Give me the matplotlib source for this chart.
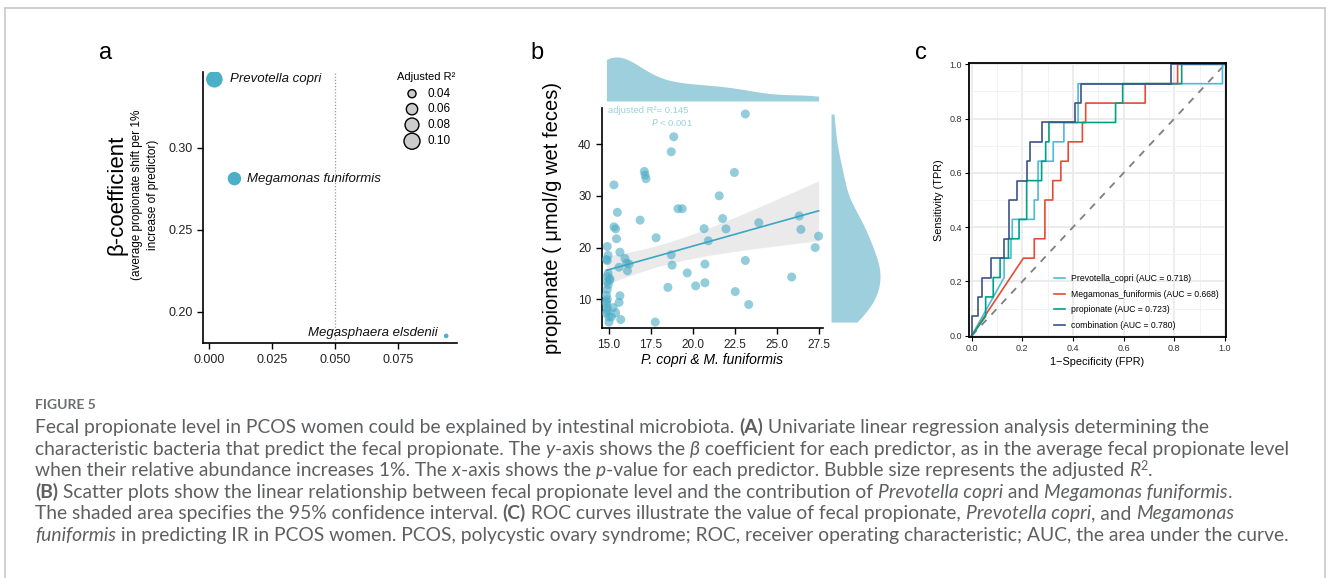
import numpy as np
import matplotlib
matplotlib.use('Agg')
import matplotlib.pyplot as plt
from matplotlib.lines import Line2D
from matplotlib.ticker import FormatStrFormatter, MultipleLocator

W, H = 1328, 578
plt.rcParams['font.family'] = ['Liberation Sans', 'DejaVu Sans']

# ---- panel a: univariate regression ----
species = ['Prevotella copri', 'Megamonas funiformis', 'Megasphaera elsdenii']
p_value = [0.002, 0.010, 0.0943]
beta = [0.3417, 0.2811, 0.1852]
adj_r2 = [0.106, 0.076, 0.026]
r2_breaks = [0.04, 0.06, 0.08, 0.10]

# ---- panel b: scatter ----
pm_abund = [23.1, 18.85, 18.7, 17.1, 17.15, 17.2, 22.45, 15.3, 21.55, 19.1,
            19.35, 15.5, 16.85, 15.3, 15.4, 20.65, 21.75, 21.95, 23.9, 26.3,
            26.4, 27.45, 27.25, 15.45, 17.8, 20.9, 14.9, 15.65, 14.95, 14.85,
            14.9, 15.95, 16.05, 16.2, 18.7, 18.75, 20.7, 15.6, 16.1, 19.65,
            14.95, 14.9, 14.9, 14.95, 15.05, 23.1, 25.85, 20.15, 20.7, 18.5,
            22.5, 23.3, 15.65, 15.6, 14.85, 14.9, 14.85, 14.9, 14.85, 15.0,
            15.25, 15.4, 15.15, 15.0, 15.7, 17.75, 14.9, 14.85, 15.05, 14.9]
propionate = [45.8, 41.4, 38.5, 34.7, 34.0, 33.3, 34.5, 32.1, 30.0, 27.5,
              27.5, 26.8, 25.3, 24.0, 23.6, 23.65, 25.6, 23.6, 24.8, 26.1,
              23.5, 22.2, 20.0, 21.7, 21.9, 21.3, 20.2, 19.1, 18.5, 17.7,
              17.5, 17.9, 17.0, 16.8, 18.6, 16.6, 16.8, 16.2, 15.5, 15.1,
              15.0, 14.4, 13.4, 12.8, 13.7, 17.5, 14.3, 12.6, 13.2, 12.3,
              11.5, 9.0, 10.7, 9.4, 10.8, 10.0, 9.2, 8.3, 7.3, 6.6,
              8.4, 7.4, 6.6, 5.6, 6.1, 5.6, 11.9, 9.6, 14.0, 7.8]

# ---- panel c: ROC curves ----
roc_names = ['Prevotella_copri', 'Megamonas_funiformis', 'propionate', 'combination']
roc_auc = [0.718, 0.668, 0.723, 0.780]
roc_colors = ['#4DBBD5', '#E64B35', '#00A087', '#3C5488']
fpr_prev = [0, 0.128, 0.128, 0.155, 0.155, 0.16, 0.16, 0.247, 0.247, 0.262, 0.262,
            0.322, 0.322, 0.364, 0.364, 0.42, 0.42, 0.99, 0.99, 1.0]
tpr_prev = [0, 3, 4, 4, 5, 5, 6, 6, 7, 7, 9, 9, 10, 10, 11, 11, 13, 13, 14, 14]
fpr_mega = [0, 0.204, 0.247, 0.247, 0.289, 0.289, 0.32, 0.32, 0.352, 0.352, 0.381,
            0.381, 0.437, 0.437, 0.45, 0.45, 0.685, 0.685, 0.813, 0.813, 1.0]
tpr_mega = [0, 4, 4, 5, 5, 7, 7, 8, 8, 9, 9, 10, 10, 11, 11, 12, 12, 13, 13, 14, 14]
fpr_prop = [0, 0.055, 0.055, 0.085, 0.085, 0.112, 0.112, 0.145, 0.145, 0.187, 0.187,
            0.217, 0.217, 0.276, 0.276, 0.292, 0.292, 0.305, 0.305, 0.568, 0.568,
            0.596, 0.596, 0.829, 0.829, 1.0]
tpr_prop = [0, 1, 2, 2, 3, 3, 4, 4, 5, 5, 6, 6, 8, 8, 9, 9, 10, 10, 11, 11, 12, 12,
            13, 13, 14, 14]
fpr_comb = [0, 0, 0.026, 0.026, 0.042, 0.042, 0.076, 0.076, 0.129, 0.129, 0.147,
            0.147, 0.178, 0.178, 0.217, 0.217, 0.232, 0.232, 0.276, 0.276, 0.408,
            0.408, 0.432, 0.432, 0.786, 0.786, 1.0]
tpr_comb = [0, 1, 1, 2, 2, 3, 3, 4, 4, 5, 5, 7, 7, 8, 8, 9, 9, 10, 10, 11, 11, 12,
            12, 13, 13, 14, 14]
n_pos = 14


def box(l, t, r, b):
    return [l / W, 1 - b / H, (r - l) / W, (b - t) / H]


def fxy(x, y):
    return x / W, 1 - y / H


def bubble(r):
    return np.clip(1650 * np.asarray(r) - 32, 4, None)


def kde(data, grid, factor=1.0):
    data = np.asarray(data)
    bw = factor * data.std(ddof=1) * len(data) ** (-0.2)
    z = (grid[:, None] - data[None, :]) / bw
    return np.exp(-0.5 * z ** 2).sum(axis=1) / (len(data) * bw * np.sqrt(2 * np.pi))


fig = plt.figure(figsize=(W / 100, H / 100), dpi=100)

# frame around the figure
for xs, ys in [([4.5, 4.5], [580, 8]), ([4.5, 1325], [8, 8]), ([1325, 1325], [8, 580])]:
    fig.add_artist(Line2D([x / W for x in xs], [1 - y / H for y in ys],
                          color='#C8C8C8', lw=1.2))

# ================= panel a =================
ax = fig.add_axes(box(203.3, 71.7, 456.7, 343.3))
ax.scatter(p_value, beta, s=bubble(adj_r2), color='#4BAFC8', edgecolor='none', zorder=3)
ax.axvline(0.05, color='#9A9A9A', ls=(0, (1, 1.5)), lw=0.9)
offs = [(11, 0, 'left'), (9, 0, 'left'), (-6, 2, 'right')]
for name, x, y, (dx, dy, ha) in zip(species, p_value, beta, offs):
    ax.annotate(name, (x, y), xytext=(dx, dy), textcoords='offset points',
                ha=ha, va='center', fontsize=9.5, style='italic', color='#111111')
ax.set_xlim(-0.0024, 0.0985)
ax.set_ylim(0.1807, 0.3463)
ax.set_xticks([0, 0.025, 0.05, 0.075])
ax.set_yticks([0.20, 0.25, 0.30])
ax.xaxis.set_major_formatter(FormatStrFormatter('%.3f'))
ax.yaxis.set_major_formatter(FormatStrFormatter('%.2f'))
for s in ['top', 'right']:
    ax.spines[s].set_visible(False)
for s in ['left', 'bottom']:
    ax.spines[s].set_linewidth(1.2)
ax.tick_params(length=4, width=1, labelsize=9, labelcolor='#222222')
# size legend
ax.text(0.764, 0.98, 'Adjusted R²', transform=ax.transAxes, fontsize=8,
        ha='left', va='center')
leg_y = [0.919, 0.862, 0.804, 0.744]
ax.scatter([0.8236] * 4, leg_y, s=bubble(r2_breaks), transform=ax.transAxes,
           color='#CCCCCC', edgecolor='black', lw=1.0, clip_on=False)
for b, y in zip(r2_breaks, leg_y):
    ax.text(0.884, y, f'{b:.2f}', transform=ax.transAxes, fontsize=8.5,
            ha='left', va='center')
fig.text(*fxy(116.7, 195), 'β-coefficient', rotation=90, fontsize=16,
         ha='center', va='center')
fig.text(*fxy(136.7, 195), '(average propionate shift per 1%', rotation=90,
         fontsize=8.5, ha='center', va='center')
fig.text(*fxy(153.3, 195), 'increase of predictor)', rotation=90,
         fontsize=8.5, ha='center', va='center')

# ================= panel b =================
x = np.array(pm_abund)
y = np.array(propionate)
axb = fig.add_axes(box(601.7, 108.3, 823.3, 328.3))
axb.scatter(x, y, s=42, color='#4BACC6', alpha=0.6, edgecolor='none', zorder=3)
slope, icpt = np.polyfit(x, y, 1)
xs = np.linspace(x.min(), x.max(), 100)
resid = y - (slope * x + icpt)
sig = np.sqrt((resid ** 2).sum() / (len(x) - 2))
se = sig * np.sqrt(1 / len(x) + (xs - x.mean()) ** 2 / ((x - x.mean()) ** 2).sum())
fit = slope * xs + icpt
axb.fill_between(xs, fit - 2.0 * se, fit + 2.0 * se, color='#D9D9D9', alpha=0.55,
                 lw=0, zorder=2)
axb.plot(xs, fit, color='#3AA5C5', lw=1.2, zorder=4)
axb.set_xlim(14.57, 27.73)
axb.set_ylim(4.4, 46.9)
axb.set_xticks([15, 17.5, 20, 22.5, 25, 27.5])
axb.set_yticks([10, 20, 30, 40])
axb.xaxis.set_major_formatter(FormatStrFormatter('%.1f'))
for s in ['top', 'right']:
    axb.spines[s].set_visible(False)
for s in ['left', 'bottom']:
    axb.spines[s].set_linewidth(1.2)
axb.tick_params(length=4, width=1, labelsize=8.5, labelcolor='#222222')
axb.set_xlabel('P. copri & M. funiformis', style='italic', fontsize=10, labelpad=2)
fig.text(*fxy(553, 218), 'propionate ( μmol/g wet feces)', rotation=90,
         fontsize=14.5, ha='center', va='center')
fig.text(*fxy(608, 111), 'adjusted R²= 0.145', color='#9CD0DE', fontsize=6.8,
         ha='left', va='center')
fig.text(*fxy(692.7, 122.7), r'$\it{P}$ < 0.001', color='#9CD0DE', fontsize=6.8,
         ha='right', va='center')

axt = fig.add_axes(box(601.7, 55, 823.3, 101))
gx = np.linspace(x.min(), x.max(), 300)
dx = kde(x, gx)
axt.fill_between(gx, 0, dx, color='#9ECFDC', lw=0)
axt.set_xlim(14.57, 27.73)
axt.set_ylim(0, dx.max() * 1.045)
axt.axis('off')

axr = fig.add_axes(box(831, 108.3, 880, 328.3))
gy = np.linspace(y.min(), y.max(), 300)
dy = kde(y, gy)
axr.fill_betweenx(gy, 0, dy, color='#9ECFDC', lw=0)
axr.set_ylim(4.4, 46.9)
axr.set_xlim(0, dy.max() * 1.0)
axr.axis('off')

# ================= panel c =================
axc = fig.add_axes(box(969, 63.3, 1226, 336.7))
axc.set_xlim(-0.0107, 1.004)
axc.set_ylim(-0.0037, 1.0037)
axc.xaxis.set_major_locator(MultipleLocator(0.2))
axc.yaxis.set_major_locator(MultipleLocator(0.2))
axc.xaxis.set_minor_locator(MultipleLocator(0.1))
axc.yaxis.set_minor_locator(MultipleLocator(0.1))
axc.xaxis.set_major_formatter(FormatStrFormatter('%.1f'))
axc.yaxis.set_major_formatter(FormatStrFormatter('%.1f'))
axc.grid(which='major', color='#EBEBEB', lw=1.3)
axc.grid(which='minor', color='#F2F2F2', lw=0.7)
axc.set_axisbelow(True)
axc.tick_params(which='minor', length=0)
axc.tick_params(which='major', length=3, width=0.8, labelsize=6.5, labelcolor='#333333', pad=2)
for s in axc.spines.values():
    s.set_linewidth(1.3)
axc.plot([0, 1], [0, 1], ls=(0, (4, 4)), color='#7F7F7F', lw=1.3)
curves = [(fpr_prev, tpr_prev), (fpr_mega, tpr_mega), (fpr_prop, tpr_prop), (fpr_comb, tpr_comb)]
for (f, t), name, auc, c in zip(curves, roc_names, roc_auc, roc_colors):
    axc.plot(f, np.array(t) / n_pos, color=c, lw=1.2,
             label=f'{name} (AUC = {auc:.3f})')
axc.legend(loc='lower left', bbox_to_anchor=(0.305, 0.0), frameon=False, fontsize=6.2,
           handlelength=1.3, handletextpad=0.6, labelspacing=0.75, borderpad=0.3)
axc.set_xlabel('1−Specificity (FPR)', fontsize=7.8, labelpad=3)
axc.set_ylabel('Sensitivity (TPR)', fontsize=7.8, labelpad=4)

# panel letters
for lab, px in [('a', 105.7), ('b', 537), ('c', 921)]:
    fig.text(*fxy(px, 53), lab, fontsize=17, ha='center', va='center')

# ================= caption =================
renderer = fig.canvas.get_renderer()
cap_font = ['Lato', 'DejaVu Sans']
cap_color = '#5E5F61'
lines = [
    [("Fecal propionate level in PCOS women could be explained by intestinal microbiota. ", ""),
     ("(A)", "b"), (" Univariate linear regression analysis determining the", "")],
    [("characteristic bacteria that predict the fecal propionate. The ", ""), ("y", "i"),
     ("-axis shows the ", ""), ("β", "i"),
     (" coefficient for each predictor, as in the average fecal propionate level", "")],
    [("when their relative abundance increases 1%. The ", ""), ("x", "i"),
     ("-axis shows the ", ""), ("p", "i"),
     ("-value for each predictor. Bubble size represents the adjusted ", ""),
     ("R", "i"), ("2", "s"), (".", "")],
    [("(B)", "b"),
     (" Scatter plots show the linear relationship between fecal propionate level and the contribution of ", ""),
     ("Prevotella copri", "i"), (" and ", ""), ("Megamonas funiformis", "i"), (".", "")],
    [("The shaded area specifies the 95% confidence interval. ", ""), ("(C)", "b"),
     (" ROC curves illustrate the value of fecal propionate, ", ""),
     ("Prevotella copri", "i"), (", and ", ""), ("Megamonas", "i")],
    [("funiformis", "i"),
     (" in predicting IR in PCOS women. PCOS, polycystic ovary syndrome; ROC, receiver operating characteristic; AUC, the area under the curve.", "")],
]


def seg_width(txt, size, st):
    kw = dict(fontsize=size, family=cap_font)
    if 'b' in st:
        kw['fontweight'] = 'bold'
    if 'i' in st:
        kw['fontstyle'] = 'italic'
    t = fig.text(0, 0, 'x' + txt + 'x', **kw)
    w1 = t.get_window_extent(renderer).width
    t.set_text('xx')
    w0 = t.get_window_extent(renderer).width
    t.remove()
    return w1 - w0


def draw_line(parts, x0, y0, size, draw=True):
    xpos = x0
    for txt, st in parts:
        sz = size * 0.65 if st == 's' else size
        kw = dict(fontsize=sz, family=cap_font, color=cap_color, ha='left', va='baseline')
        if 'b' in st:
            kw['fontweight'] = 'bold'
        if 'i' in st:
            kw['fontstyle'] = 'italic'
        yy = y0 - (size * 0.45 if st == 's' else 0)
        if draw:
            fig.text(*fxy(xpos, yy), txt, **kw)
        xpos += seg_width(txt, sz, st)
    return xpos - x0


w10 = draw_line(lines[1], 0, 0, 10, draw=False)
cap_size = 10 * 1262 / w10
fig.text(*fxy(35, 409), 'FIGURE 5', fontsize=10, fontweight='bold', family=cap_font,
         color='#6D6E71', ha='left', va='baseline')
for i, parts in enumerate(lines):
    draw_line(parts, 35, 433 + 21.6 * i, cap_size)

fig.savefig('out.png', dpi=100)
